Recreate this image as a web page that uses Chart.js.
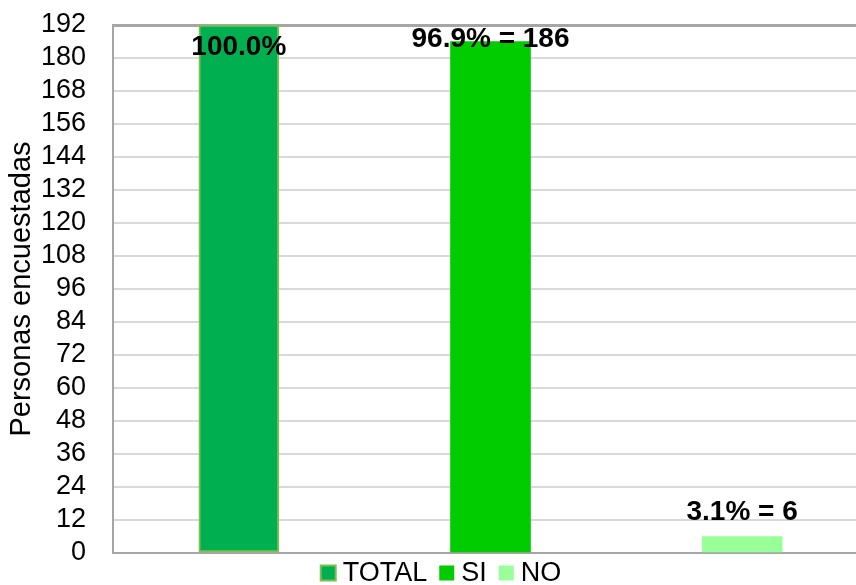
<!DOCTYPE html>
<html>
<head>
<meta charset="utf-8">
<script src="https://cdn.jsdelivr.net/npm/chart.js@4"></script>
<style>
html,body{margin:0;padding:0;background:#fff;overflow:hidden;}
#wrap{width:882px;height:585px;}
</style>
</head>
<body>
<div id="wrap"><canvas id="myChart" width="882" height="585"></canvas></div>
<script>
var categories=["TOTAL","SI","NO"];
var totalData=[192,null,null];
var siData=[null,186,null];
var noData=[null,null,6];
var barLabels=["100.0%","96.9% = 186","3.1% = 6"];
var yTicks={min:0,max:192,step:12};

var ctx=document.getElementById("myChart").getContext('2d');
var FONT='"Liberation Sans", Arial, sans-serif';

var TOTAL={
label:"TOTAL",
backgroundColor:'#00b050',
borderColor:'#7cbf52',
borderWidth:2,
borderSkipped:false,
data:totalData
};
var SI={
label:"SI",
backgroundColor:'#00cc00',
borderColor:'#00cc00',
borderWidth:0,
data:siData
};
var NO={
label:"NO",
backgroundColor:'#99ff99',
borderColor:'#99ff99',
borderWidth:0,
data:noData
};

// labels over the bars
var barText={
id:'barText',
afterDatasetsDraw:function(chart,args,opts){
var c=chart.ctx;
c.save();
c.font='bold 28px '+FONT;
c.fillStyle='#000';
c.textAlign='center';
c.textBaseline='middle';
chart.data.datasets.forEach(function(ds,i){
var meta=chart.getDatasetMeta(i);
meta.data.forEach(function(bar,j){
if(ds.data[j]==null)return;
c.fillText(barLabels[j],bar.x,bar.y+opts.shift[j]);
});
});
c.restore();
}
};

// excel-like legend under the plot (tighter than the built-in one)
var bottomLegend={
id:'bottomLegend',
afterDraw:function(chart,args,opts){
var c=chart.ctx;
c.save();
c.font='27px '+FONT;
c.textBaseline='middle';
c.fillStyle='#000';
var ds=chart.data.datasets;
var widths=ds.map(function(d){return 15+opts.gap+c.measureText(d.label).width;});
var total=widths.reduce(function(a,b){return a+b;},0)+opts.spacing*(ds.length-1);
var x=chart.width/2-total/2;
var y=chart.chartArea.bottom+opts.offset;
ds.forEach(function(d,i){
c.fillStyle=d.backgroundColor;
c.fillRect(x,y-7.5,15,15);
if(d.borderWidth){
c.strokeStyle=d.borderColor;
c.lineWidth=2;
c.strokeRect(x,y-7.5,15,15);
}
c.fillStyle='#000';
c.fillText(d.label,x+15+opts.gap,y+1);
x+=widths[i]+opts.spacing;
});
c.restore();
}
};

var chart=new Chart(ctx,{
type:'bar',
data:{labels:categories,datasets:[TOTAL,SI,NO]},
plugins:[barText,bottomLegend],
options:{
responsive:false,
animation:false,
layout:{padding:{top:25,right:14,left:0,bottom:0}},
datasets:{bar:{barThickness:80}},
plugins:{
barText:{shift:[22,-2,-24]},
bottomLegend:{gap:7,spacing:12,offset:20},
tooltip:{enabled:false},
legend:{display:false}
},
scales:{
x:{
stacked:true,
ticks:{display:false},
grid:{display:false},
border:{color:'#a6a6a6',width:2},
afterFit:function(s){s.height=32;}
},
y:{
stacked:true,
min:yTicks.min,
max:yTicks.max,
ticks:{stepSize:yTicks.step,autoSkip:false,color:'#000',padding:0,
font:{family:FONT,size:27}},
grid:{drawTicks:true,tickLength:27,tickColor:'rgba(0,0,0,0)',
lineWidth:function(c){return c.tick&&c.tick.value===yTicks.max?3:2;},
color:function(c){return c.tick&&c.tick.value===yTicks.max?'#a6a6a6':'#d9d9d9';}},
border:{color:'#a6a6a6',width:2},
title:{display:true,text:'Personas encuestadas',color:'#000',padding:{top:5,bottom:0},
font:{family:FONT,size:29}},
afterFit:function(s){s.width=113;}
}
}
}
});
</script>
</body>
</html>
